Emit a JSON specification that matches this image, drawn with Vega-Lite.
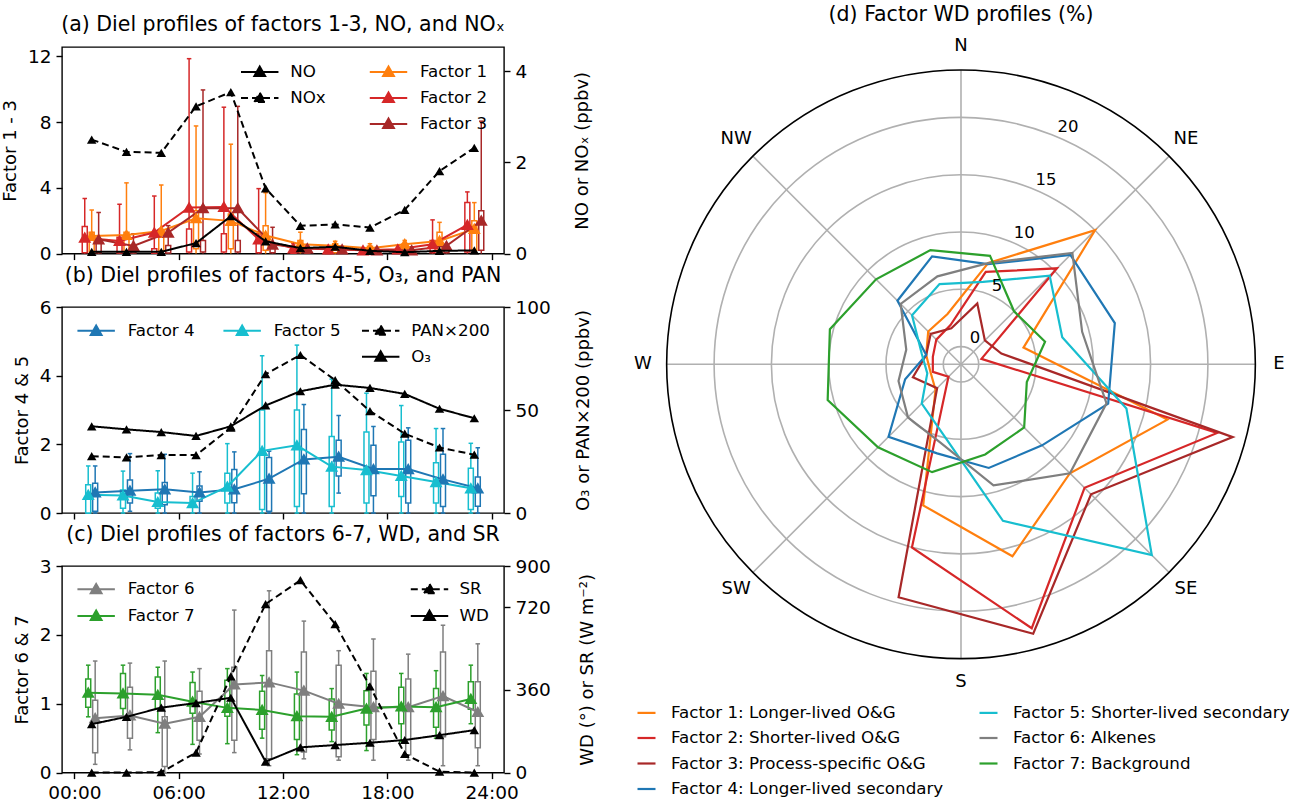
{
"$schema": "https://vega.github.io/schema/vega-lite/v6.json",
"padding": {"left": 0, "top": 4, "right": 0, "bottom": 0},
"background": "white",
"config": {
  "font": "DejaVu Sans",
  "view": {"stroke": "black", "strokeWidth": 1.4},
  "axis": {"labelFontSize": 18.5, "titleFontSize": 18, "titleFontWeight": "normal", "labelColor": "black", "titleColor": "black", "tickColor": "black", "tickWidth": 1.4, "tickSize": 6, "domain": false, "grid": false, "labelPadding": 5},
  "title": {"fontSize": 20.5, "fontWeight": "normal", "offset": 12, "color": "black"},
  "legend": {"labelFontSize": 16.7, "labelColor": "black", "padding": 0, "labelLimit": 600}
},
"datasets": {
  "box": [
    {"panel":"a","factor":"Factor 1","hour":1,"lo":0,"q1":0.1,"q3":1.3,"hi":2.65,"mid":1.07},
    {"panel":"a","factor":"Factor 1","hour":3,"lo":0,"q1":0.1,"q3":1.3,"hi":4.3,"mid":1.13},
    {"panel":"a","factor":"Factor 1","hour":5,"lo":0,"q1":0.15,"q3":1.0,"hi":4.17,"mid":1.38},
    {"panel":"a","factor":"Factor 1","hour":7,"lo":0,"q1":0.3,"q3":2.6,"hi":7.76,"mid":2.15},
    {"panel":"a","factor":"Factor 1","hour":9,"lo":0,"q1":0.3,"q3":2.4,"hi":6.65,"mid":1.99},
    {"panel":"a","factor":"Factor 1","hour":11,"lo":0,"q1":0.2,"q3":1.7,"hi":3.7,"mid":1.1},
    {"panel":"a","factor":"Factor 1","hour":13,"lo":0,"q1":0.1,"q3":0.8,"hi":1.3,"mid":0.57},
    {"panel":"a","factor":"Factor 1","hour":15,"lo":0,"q1":0.05,"q3":0.6,"hi":0.75,"mid":0.47},
    {"panel":"a","factor":"Factor 1","hour":17,"lo":0,"q1":0.02,"q3":0.45,"hi":0.6,"mid":0.32},
    {"panel":"a","factor":"Factor 1","hour":19,"lo":0,"q1":0.05,"q3":0.6,"hi":0.8,"mid":0.57},
    {"panel":"a","factor":"Factor 1","hour":21,"lo":0,"q1":0.1,"q3":1.3,"hi":1.9,"mid":0.77},
    {"panel":"a","factor":"Factor 1","hour":23,"lo":0,"q1":0.2,"q3":2.0,"hi":3.1,"mid":1.5},
    {"panel":"a","factor":"Factor 2","hour":1,"lo":0,"q1":0.05,"q3":1.65,"hi":3.35,"mid":0.97},
    {"panel":"a","factor":"Factor 2","hour":3,"lo":0,"q1":0.03,"q3":1.0,"hi":3.0,"mid":0.77},
    {"panel":"a","factor":"Factor 2","hour":5,"lo":0,"q1":0.02,"q3":0.3,"hi":3.5,"mid":1.28},
    {"panel":"a","factor":"Factor 2","hour":7,"lo":0,"q1":0.1,"q3":1.5,"hi":11.85,"mid":2.8},
    {"panel":"a","factor":"Factor 2","hour":9,"lo":0,"q1":0.1,"q3":1.2,"hi":8.9,"mid":2.84},
    {"panel":"a","factor":"Factor 2","hour":11,"lo":0,"q1":0.05,"q3":1.2,"hi":3.95,"mid":0.87},
    {"panel":"a","factor":"Factor 2","hour":13,"lo":0,"q1":0.02,"q3":0.3,"hi":0.6,"mid":0.32},
    {"panel":"a","factor":"Factor 2","hour":15,"lo":0,"q1":0.01,"q3":0.2,"hi":0.4,"mid":0.26},
    {"panel":"a","factor":"Factor 2","hour":17,"lo":0,"q1":0.01,"q3":0.15,"hi":0.3,"mid":0.2},
    {"panel":"a","factor":"Factor 2","hour":19,"lo":0,"q1":0.02,"q3":0.25,"hi":0.5,"mid":0.26},
    {"panel":"a","factor":"Factor 2","hour":21,"lo":0,"q1":0.05,"q3":0.8,"hi":2.05,"mid":0.57},
    {"panel":"a","factor":"Factor 2","hour":23,"lo":0,"q1":0.1,"q3":3.1,"hi":3.75,"mid":1.75},
    {"panel":"a","factor":"Factor 3","hour":1,"lo":0,"q1":0.05,"q3":0.8,"hi":2.5,"mid":0.87},
    {"panel":"a","factor":"Factor 3","hour":3,"lo":0,"q1":0.03,"q3":0.5,"hi":1.2,"mid":0.47},
    {"panel":"a","factor":"Factor 3","hour":5,"lo":0,"q1":0.03,"q3":0.5,"hi":1.7,"mid":1.28},
    {"panel":"a","factor":"Factor 3","hour":7,"lo":0,"q1":0.1,"q3":0.8,"hi":9.95,"mid":2.76},
    {"panel":"a","factor":"Factor 3","hour":9,"lo":0,"q1":0.1,"q3":0.8,"hi":8.95,"mid":2.76},
    {"panel":"a","factor":"Factor 3","hour":11,"lo":0,"q1":0.05,"q3":0.5,"hi":1.6,"mid":0.55},
    {"panel":"a","factor":"Factor 3","hour":13,"lo":0,"q1":0.02,"q3":0.2,"hi":0.45,"mid":0.32},
    {"panel":"a","factor":"Factor 3","hour":15,"lo":0,"q1":0.02,"q3":0.2,"hi":0.35,"mid":0.26},
    {"panel":"a","factor":"Factor 3","hour":17,"lo":0,"q1":0.02,"q3":0.2,"hi":0.35,"mid":0.2},
    {"panel":"a","factor":"Factor 3","hour":19,"lo":0,"q1":0.02,"q3":0.2,"hi":0.4,"mid":0.2},
    {"panel":"a","factor":"Factor 3","hour":21,"lo":0,"q1":0.05,"q3":0.3,"hi":0.5,"mid":0.47},
    {"panel":"a","factor":"Factor 3","hour":23,"lo":0,"q1":0.2,"q3":2.6,"hi":8.05,"mid":2.0},
    {"panel":"b","factor":"Factor 4","hour":1,"lo":0,"q1":0.05,"q3":0.87,"hi":1.37,"mid":0.6},
    {"panel":"b","factor":"Factor 4","hour":3,"lo":0.05,"q1":0.29,"q3":0.96,"hi":1.73,"mid":0.65},
    {"panel":"b","factor":"Factor 4","hour":5,"lo":0,"q1":0.24,"q3":0.89,"hi":1.71,"mid":0.69},
    {"panel":"b","factor":"Factor 4","hour":7,"lo":0,"q1":0.34,"q3":0.79,"hi":1.2,"mid":0.6},
    {"panel":"b","factor":"Factor 4","hour":9,"lo":0,"q1":0.3,"q3":1.27,"hi":1.78,"mid":0.69},
    {"panel":"b","factor":"Factor 4","hour":11,"lo":0,"q1":0.05,"q3":1.62,"hi":1.8,"mid":1.0},
    {"panel":"b","factor":"Factor 4","hour":13,"lo":0,"q1":0.56,"q3":2.43,"hi":3.16,"mid":1.56},
    {"panel":"b","factor":"Factor 4","hour":15,"lo":0.58,"q1":1.08,"q3":2.12,"hi":2.84,"mid":1.64},
    {"panel":"b","factor":"Factor 4","hour":17,"lo":0,"q1":0.5,"q3":1.97,"hi":2.52,"mid":1.28},
    {"panel":"b","factor":"Factor 4","hour":19,"lo":0,"q1":0.29,"q3":2.12,"hi":2.48,"mid":1.28},
    {"panel":"b","factor":"Factor 4","hour":21,"lo":0,"q1":0.19,"q3":1.71,"hi":2.46,"mid":0.98},
    {"panel":"b","factor":"Factor 4","hour":23,"lo":0,"q1":0.2,"q3":1.05,"hi":1.9,"mid":0.72},
    {"panel":"b","factor":"Factor 5","hour":1,"lo":0,"q1":0.0,"q3":0.82,"hi":1.37,"mid":0.53},
    {"panel":"b","factor":"Factor 5","hour":3,"lo":0,"q1":0.14,"q3":0.67,"hi":1.22,"mid":0.51},
    {"panel":"b","factor":"Factor 5","hour":5,"lo":0,"q1":0.14,"q3":0.58,"hi":1.23,"mid":0.32},
    {"panel":"b","factor":"Factor 5","hour":7,"lo":0,"q1":0.19,"q3":0.48,"hi":1.16,"mid":0.29},
    {"panel":"b","factor":"Factor 5","hour":9,"lo":0,"q1":0.29,"q3":1.16,"hi":2.02,"mid":0.77},
    {"panel":"b","factor":"Factor 5","hour":11,"lo":0,"q1":0.1,"q3":3.0,"hi":4.58,"mid":1.81},
    {"panel":"b","factor":"Factor 5","hour":13,"lo":0,"q1":0.19,"q3":3.0,"hi":4.89,"mid":1.97},
    {"panel":"b","factor":"Factor 5","hour":15,"lo":0,"q1":0.19,"q3":2.23,"hi":3.9,"mid":1.35},
    {"panel":"b","factor":"Factor 5","hour":17,"lo":0,"q1":0.29,"q3":2.36,"hi":3.49,"mid":1.25},
    {"panel":"b","factor":"Factor 5","hour":19,"lo":0,"q1":0.48,"q3":2.07,"hi":3.13,"mid":1.08},
    {"panel":"b","factor":"Factor 5","hour":21,"lo":0,"q1":0.29,"q3":1.46,"hi":2.46,"mid":0.9},
    {"panel":"b","factor":"Factor 5","hour":23,"lo":0,"q1":0.1,"q3":1.3,"hi":2.03,"mid":0.72},
    {"panel":"c","factor":"Factor 6","hour":1,"lo":0.12,"q1":0.29,"q3":1.05,"hi":1.62,"mid":0.79},
    {"panel":"c","factor":"Factor 6","hour":3,"lo":0.33,"q1":0.5,"q3":1.24,"hi":1.59,"mid":0.83},
    {"panel":"c","factor":"Factor 6","hour":5,"lo":0.0,"q1":0.09,"q3":0.81,"hi":1.62,"mid":0.71},
    {"panel":"c","factor":"Factor 6","hour":7,"lo":0.27,"q1":0.47,"q3":1.18,"hi":1.51,"mid":0.81},
    {"panel":"c","factor":"Factor 6","hour":9,"lo":0.29,"q1":0.47,"q3":1.53,"hi":2.36,"mid":1.28},
    {"panel":"c","factor":"Factor 6","hour":11,"lo":0.1,"q1":0.2,"q3":1.77,"hi":2.64,"mid":1.31},
    {"panel":"c","factor":"Factor 6","hour":13,"lo":0.2,"q1":0.3,"q3":1.75,"hi":2.2,"mid":1.19},
    {"panel":"c","factor":"Factor 6","hour":15,"lo":0.18,"q1":0.23,"q3":1.56,"hi":1.77,"mid":1.0},
    {"panel":"c","factor":"Factor 6","hour":17,"lo":0.18,"q1":0.48,"q3":1.47,"hi":1.94,"mid":0.95},
    {"panel":"c","factor":"Factor 6","hour":19,"lo":0.18,"q1":0.26,"q3":1.36,"hi":1.72,"mid":0.95},
    {"panel":"c","factor":"Factor 6","hour":21,"lo":0.1,"q1":0.52,"q3":1.75,"hi":2.14,"mid":1.11},
    {"panel":"c","factor":"Factor 6","hour":23,"lo":0.1,"q1":0.36,"q3":1.32,"hi":1.87,"mid":0.88},
    {"panel":"c","factor":"Factor 7","hour":1,"lo":0.81,"q1":0.95,"q3":1.36,"hi":1.56,"mid":1.16},
    {"panel":"c","factor":"Factor 7","hour":3,"lo":0.8,"q1":0.93,"q3":1.44,"hi":1.56,"mid":1.15},
    {"panel":"c","factor":"Factor 7","hour":5,"lo":0.58,"q1":0.93,"q3":1.39,"hi":1.53,"mid":1.13},
    {"panel":"c","factor":"Factor 7","hour":7,"lo":0.41,"q1":0.86,"q3":1.31,"hi":1.46,"mid":1.03},
    {"panel":"c","factor":"Factor 7","hour":9,"lo":0.42,"q1":0.82,"q3":1.34,"hi":1.51,"mid":0.94},
    {"panel":"c","factor":"Factor 7","hour":11,"lo":0.5,"q1":0.63,"q3":1.18,"hi":1.41,"mid":0.91},
    {"panel":"c","factor":"Factor 7","hour":13,"lo":0.26,"q1":0.48,"q3":1.14,"hi":1.46,"mid":0.82},
    {"panel":"c","factor":"Factor 7","hour":15,"lo":0.45,"q1":0.62,"q3":1.07,"hi":1.22,"mid":0.81},
    {"panel":"c","factor":"Factor 7","hour":17,"lo":0.32,"q1":0.69,"q3":1.19,"hi":1.44,"mid":0.93},
    {"panel":"c","factor":"Factor 7","hour":19,"lo":0.45,"q1":0.71,"q3":1.24,"hi":1.44,"mid":0.96},
    {"panel":"c","factor":"Factor 7","hour":21,"lo":0.5,"q1":0.66,"q3":1.22,"hi":1.48,"mid":0.95},
    {"panel":"c","factor":"Factor 7","hour":23,"lo":0.71,"q1":0.92,"q3":1.32,"hi":1.56,"mid":1.07}
  ],
  "black": [
    {"panel":"a","species":"NO","hour":1,"val":0.04},{"panel":"a","species":"NO","hour":3,"val":0.04},{"panel":"a","species":"NO","hour":5,"val":0.04},{"panel":"a","species":"NO","hour":7,"val":0.23},{"panel":"a","species":"NO","hour":9,"val":0.82},{"panel":"a","species":"NO","hour":11,"val":0.27},{"panel":"a","species":"NO","hour":13,"val":0.12},{"panel":"a","species":"NO","hour":15,"val":0.15},{"panel":"a","species":"NO","hour":17,"val":0.06},{"panel":"a","species":"NO","hour":19,"val":0.03},{"panel":"a","species":"NO","hour":21,"val":0.06},{"panel":"a","species":"NO","hour":23,"val":0.07},
    {"panel":"a","species":"NOx","hour":1,"val":2.5},{"panel":"a","species":"NOx","hour":3,"val":2.23},{"panel":"a","species":"NOx","hour":5,"val":2.21},{"panel":"a","species":"NOx","hour":7,"val":3.23},{"panel":"a","species":"NOx","hour":9,"val":3.54},{"panel":"a","species":"NOx","hour":11,"val":1.43},{"panel":"a","species":"NOx","hour":13,"val":0.61},{"panel":"a","species":"NOx","hour":15,"val":0.64},{"panel":"a","species":"NOx","hour":17,"val":0.57},{"panel":"a","species":"NOx","hour":19,"val":0.96},{"panel":"a","species":"NOx","hour":21,"val":1.81},{"panel":"a","species":"NOx","hour":23,"val":2.32},
    {"panel":"b","species":"O₃","hour":1,"val":42.1},{"panel":"b","species":"O₃","hour":3,"val":40.6},{"panel":"b","species":"O₃","hour":5,"val":39.3},{"panel":"b","species":"O₃","hour":7,"val":37.4},{"panel":"b","species":"O₃","hour":9,"val":42.1},{"panel":"b","species":"O₃","hour":11,"val":52.2},{"panel":"b","species":"O₃","hour":13,"val":59.1},{"panel":"b","species":"O₃","hour":15,"val":62.3},{"panel":"b","species":"O₃","hour":17,"val":60.7},{"panel":"b","species":"O₃","hour":19,"val":57.8},{"panel":"b","species":"O₃","hour":21,"val":50.6},{"panel":"b","species":"O₃","hour":23,"val":46},
    {"panel":"b","species":"PAN×200","hour":1,"val":27.6},{"panel":"b","species":"PAN×200","hour":3,"val":27.0},{"panel":"b","species":"PAN×200","hour":5,"val":28.1},{"panel":"b","species":"PAN×200","hour":7,"val":28.1},{"panel":"b","species":"PAN×200","hour":9,"val":41.4},{"panel":"b","species":"PAN×200","hour":11,"val":67.4},{"panel":"b","species":"PAN×200","hour":13,"val":76.7},{"panel":"b","species":"PAN×200","hour":15,"val":64.5},{"panel":"b","species":"PAN×200","hour":17,"val":49.5},{"panel":"b","species":"PAN×200","hour":19,"val":38.5},{"panel":"b","species":"PAN×200","hour":21,"val":31.8},{"panel":"b","species":"PAN×200","hour":23,"val":28.3},
    {"panel":"c","species":"SR","hour":1,"val":0},{"panel":"c","species":"SR","hour":3,"val":0},{"panel":"c","species":"SR","hour":5,"val":2},{"panel":"c","species":"SR","hour":7,"val":87},{"panel":"c","species":"SR","hour":9,"val":419},{"panel":"c","species":"SR","hour":11,"val":734},{"panel":"c","species":"SR","hour":13,"val":838},{"panel":"c","species":"SR","hour":15,"val":647},{"panel":"c","species":"SR","hour":17,"val":376},{"panel":"c","species":"SR","hour":19,"val":81},{"panel":"c","species":"SR","hour":21,"val":4},{"panel":"c","species":"SR","hour":23,"val":0},
    {"panel":"c","species":"WD","hour":1,"val":211},{"panel":"c","species":"WD","hour":3,"val":243},{"panel":"c","species":"WD","hour":5,"val":283},{"panel":"c","species":"WD","hour":7,"val":303},{"panel":"c","species":"WD","hour":9,"val":326},{"panel":"c","species":"WD","hour":11,"val":48},{"panel":"c","species":"WD","hour":13,"val":110},{"panel":"c","species":"WD","hour":15,"val":120},{"panel":"c","species":"WD","hour":17,"val":130},{"panel":"c","species":"WD","hour":19,"val":142},{"panel":"c","species":"WD","hour":21,"val":163},{"panel":"c","species":"WD","hour":23,"val":185}
  ],
  "wd": [
    {"name":"Factor 1: Longer-lived O&G","dir":15,"pct":7.6},{"name":"Factor 1: Longer-lived O&G","dir":45,"pct":15.0},{"name":"Factor 1: Longer-lived O&G","dir":75,"pct":4.1},{"name":"Factor 1: Longer-lived O&G","dir":105,"pct":17.1},{"name":"Factor 1: Longer-lived O&G","dir":135,"pct":11.9},{"name":"Factor 1: Longer-lived O&G","dir":165,"pct":15.8},{"name":"Factor 1: Longer-lived O&G","dir":195,"pct":11.2},{"name":"Factor 1: Longer-lived O&G","dir":225,"pct":1.6},{"name":"Factor 1: Longer-lived O&G","dir":255,"pct":1.2},{"name":"Factor 1: Longer-lived O&G","dir":285,"pct":1.6},{"name":"Factor 1: Longer-lived O&G","dir":315,"pct":2.5},{"name":"Factor 1: Longer-lived O&G","dir":345,"pct":3.0},
    {"name":"Factor 2: Shorter-lived O&G","dir":15,"pct":6.8},{"name":"Factor 2: Shorter-lived O&G","dir":45,"pct":10.3},{"name":"Factor 2: Shorter-lived O&G","dir":75,"pct":0.3},{"name":"Factor 2: Shorter-lived O&G","dir":105,"pct":21.6},{"name":"Factor 2: Shorter-lived O&G","dir":135,"pct":13.7},{"name":"Factor 2: Shorter-lived O&G","dir":165,"pct":22.3},{"name":"Factor 2: Shorter-lived O&G","dir":195,"pct":15.0},{"name":"Factor 2: Shorter-lived O&G","dir":225,"pct":0.0},{"name":"Factor 2: Shorter-lived O&G","dir":255,"pct":1.0},{"name":"Factor 2: Shorter-lived O&G","dir":285,"pct":1.0},{"name":"Factor 2: Shorter-lived O&G","dir":315,"pct":1.5},{"name":"Factor 2: Shorter-lived O&G","dir":345,"pct":2.0},
    {"name":"Factor 3: Process-specific O&G","dir":15,"pct":3.95},{"name":"Factor 3: Process-specific O&G","dir":45,"pct":1.4},{"name":"Factor 3: Process-specific O&G","dir":75,"pct":2.1},{"name":"Factor 3: Process-specific O&G","dir":105,"pct":23.0},{"name":"Factor 3: Process-specific O&G","dir":135,"pct":14.5},{"name":"Factor 3: Process-specific O&G","dir":165,"pct":22.8},{"name":"Factor 3: Process-specific O&G","dir":195,"pct":19.5},{"name":"Factor 3: Process-specific O&G","dir":225,"pct":1.4},{"name":"Factor 3: Process-specific O&G","dir":255,"pct":2.8},{"name":"Factor 3: Process-specific O&G","dir":285,"pct":1.6},{"name":"Factor 3: Process-specific O&G","dir":315,"pct":2.2},{"name":"Factor 3: Process-specific O&G","dir":345,"pct":1.7},
    {"name":"Factor 4: Longer-lived secondary","dir":15,"pct":7.5},{"name":"Factor 4: Longer-lived secondary","dir":45,"pct":11.95},{"name":"Factor 4: Longer-lived secondary","dir":75,"pct":12.35},{"name":"Factor 4: Longer-lived secondary","dir":105,"pct":11.75},{"name":"Factor 4: Longer-lived secondary","dir":135,"pct":8.46},{"name":"Factor 4: Longer-lived secondary","dir":165,"pct":7.82},{"name":"Factor 4: Longer-lived secondary","dir":195,"pct":6.5},{"name":"Factor 4: Longer-lived secondary","dir":225,"pct":7.4},{"name":"Factor 4: Longer-lived secondary","dir":255,"pct":3.5},{"name":"Factor 4: Longer-lived secondary","dir":285,"pct":1.6},{"name":"Factor 4: Longer-lived secondary","dir":315,"pct":6.3},{"name":"Factor 4: Longer-lived secondary","dir":345,"pct":8.2},
    {"name":"Factor 5: Shorter-lived secondary","dir":15,"pct":5.9},{"name":"Factor 5: Shorter-lived secondary","dir":45,"pct":9.4},{"name":"Factor 5: Shorter-lived secondary","dir":75,"pct":7.6},{"name":"Factor 5: Shorter-lived secondary","dir":105,"pct":13.4},{"name":"Factor 5: Shorter-lived secondary","dir":135,"pct":22.0},{"name":"Factor 5: Shorter-lived secondary","dir":165,"pct":12.6},{"name":"Factor 5: Shorter-lived secondary","dir":195,"pct":4.7},{"name":"Factor 5: Shorter-lived secondary","dir":225,"pct":3.3},{"name":"Factor 5: Shorter-lived secondary","dir":255,"pct":1.5},{"name":"Factor 5: Shorter-lived secondary","dir":285,"pct":2.0},{"name":"Factor 5: Shorter-lived secondary","dir":315,"pct":4.5},{"name":"Factor 5: Shorter-lived secondary","dir":345,"pct":5.7},
    {"name":"Factor 6: Alkenes","dir":15,"pct":7.6},{"name":"Factor 6: Alkenes","dir":45,"pct":12.2},{"name":"Factor 6: Alkenes","dir":75,"pct":9.4},{"name":"Factor 6: Alkenes","dir":105,"pct":11.6},{"name":"Factor 6: Alkenes","dir":135,"pct":11.9},{"name":"Factor 6: Alkenes","dir":165,"pct":9.4},{"name":"Factor 6: Alkenes","dir":195,"pct":5.5},{"name":"Factor 6: Alkenes","dir":225,"pct":5.0},{"name":"Factor 6: Alkenes","dir":255,"pct":4.1},{"name":"Factor 6: Alkenes","dir":285,"pct":3.4},{"name":"Factor 6: Alkenes","dir":315,"pct":5.9},{"name":"Factor 6: Alkenes","dir":345,"pct":6.4},
    {"name":"Factor 7: Background","dir":15,"pct":8.25},{"name":"Factor 7: Background","dir":45,"pct":5.0},{"name":"Factor 7: Background","dir":75,"pct":6.05},{"name":"Factor 7: Background","dir":105,"pct":4.4},{"name":"Factor 7: Background","dir":135,"pct":6.25},{"name":"Factor 7: Background","dir":165,"pct":6.6},{"name":"Factor 7: Background","dir":195,"pct":8.2},{"name":"Factor 7: Background","dir":225,"pct":8.7},{"name":"Factor 7: Background","dir":255,"pct":10.5},{"name":"Factor 7: Background","dir":285,"pct":10.3},{"name":"Factor 7: Background","dir":315,"pct":8.94},{"name":"Factor 7: Background","dir":345,"pct":8.77}
  ],
  "rings": [{"r":0},{"r":5},{"r":10},{"r":15},{"r":20}],
  "edge": [{"r":24.14}],
  "spokes": [{"angle":0},{"angle":45},{"angle":90},{"angle":135},{"angle":180},{"angle":225},{"angle":270},{"angle":315}],
  "dirs": [{"label":"N","angle":0},{"label":"NE","angle":45},{"label":"E","angle":90},{"label":"SE","angle":135},{"label":"S","angle":180},{"label":"SW","angle":225},{"label":"W","angle":270},{"label":"NW","angle":315}]
},
"hconcat": [
 {
  "vconcat": [
   {
    "width": 442, "height": 206.6,
    "title": {"text": "(a) Diel profiles of factors 1-3, NO, and NOₓ"},
    "layer": [
     {
      "data": {"name": "box"},
      "transform": [
        {"filter": "datum.panel == 'a'"},
        {"calculate": "datum.hour + (datum.factor == 'Factor 2' ? -0.4 : datum.factor == 'Factor 3' ? 0.4 : 0)", "as": "pos"},
        {"calculate": "datum.pos - 0.13", "as": "capL"},
        {"calculate": "datum.pos + 0.13", "as": "capR"}
      ],
      "encoding": {
        "x": {"field": "pos", "type": "quantitative", "scale": {"domain": [-0.42, 24.42], "nice": false, "zero": false}, "axis": {"values": [0,6,12,18,24], "labels": false, "title": null}},
        "stroke": {"field": "factor", "type": "nominal", "scale": {"domain": ["Factor 1","Factor 2","Factor 3"], "range": ["#ff7f0e","#d62728","#a82828"]},
          "legend": {"orient": "none", "legendX": 316.5, "legendY": 15, "title": null, "symbolType": "M-2.08,0H2.08M-0.6,0.45L0,-0.6L0.6,0.45Z", "symbolSize": 324, "symbolStrokeWidth": 2, "labelOffset": 21.5, "rowPadding": 7,
            "encode": {"symbols": {"update": {"fill": {"signal": "['#ff7f0e','#d62728','#a82828'][indexof(['Factor 1','Factor 2','Factor 3'], datum.value)]"}, "opacity": {"value": 1}}}}}}
      },
      "layer": [
        {"mark": {"type": "rule", "strokeWidth": 1.5}, "encoding": {"y": {"field": "lo", "type": "quantitative", "scale": {"domain": [0, 12.56], "nice": false}, "axis": {"values": [0,4,8,12], "title": "Factor 1 - 3", "titlePadding": 8}}, "y2": {"field": "hi"}}},
        {"mark": {"type": "rule", "strokeWidth": 1.5}, "encoding": {"x": {"field": "capL", "type": "quantitative"}, "x2": {"field": "capR"}, "y": {"field": "hi", "type": "quantitative"}}},
        {"mark": {"type": "bar", "width": 5, "fill": "white", "strokeWidth": 1.5}, "encoding": {"y": {"field": "q1", "type": "quantitative"}, "y2": {"field": "q3"}}},
        {"mark": {"type": "line", "strokeWidth": 2}, "encoding": {"y": {"field": "mid", "type": "quantitative"}}},
        {"mark": {"type": "point", "shape": "triangle-up", "filled": true, "size": 90, "opacity": 1}, "encoding": {"y": {"field": "mid", "type": "quantitative"}, "color": {"field": "factor", "type": "nominal", "scale": {"domain": ["Factor 1","Factor 2","Factor 3"], "range": ["#ff7f0e","#d62728","#a82828"]}, "legend": null}}}
      ]
     },
     {
      "data": {"name": "black"},
      "transform": [{"filter": "datum.panel == 'a'"}],
      "encoding": {
        "x": {"field": "hour", "type": "quantitative", "scale": {"domain": [-0.42, 24.42], "nice": false, "zero": false}, "axis": {"values": [0,6,12,18,24], "labels": false, "title": null}},
        "y": {"field": "val", "type": "quantitative", "scale": {"domain": [0, 4.53], "nice": false}, "axis": {"orient": "right", "values": [0,2,4], "title": "NO or NOₓ (ppbv)", "titleAngle": 270, "titleBaseline": "top", "titlePadding": 47}}
      },
      "layer": [
        {"mark": {"type": "line", "color": "black", "strokeWidth": 2}, "encoding": {"strokeDash": {"field": "species", "type": "nominal", "scale": {"domain": ["NO","NOx"], "range": [[1,0],[7,4]]},
          "legend": {"orient": "none", "legendX": 187.75, "legendY": 15, "title": null, "symbolType": "M-2.08,0H2.08M-0.6,0.45L0,-0.6L0.6,0.45Z", "symbolSize": 324, "symbolStrokeWidth": 2, "symbolFillColor": "black", "symbolStrokeColor": "black", "labelOffset": 20.5, "rowPadding": 7}}}},
        {"mark": {"type": "point", "shape": "triangle-up", "filled": true, "color": "black", "size": 90, "opacity": 1}, "encoding": {"detail": {"field": "species"}}}
      ]
     }
    ],
    "resolve": {"scale": {"y": "independent"}}
   },
   {
    "width": 442, "height": 206,
    "title": {"text": "(b) Diel profiles of factors 4-5, O₃, and PAN"},
    "layer": [
     {
      "data": {"name": "box"},
      "transform": [
        {"filter": "datum.panel == 'b'"},
        {"calculate": "datum.hour + (datum.factor == 'Factor 5' ? -0.2 : 0.2)", "as": "pos"},
        {"calculate": "datum.pos - 0.13", "as": "capL"},
        {"calculate": "datum.pos + 0.13", "as": "capR"}
      ],
      "encoding": {
        "x": {"field": "pos", "type": "quantitative", "scale": {"domain": [-0.42, 24.42], "nice": false, "zero": false}, "axis": {"values": [0,6,12,18,24], "labels": false, "title": null}},
        "stroke": {"field": "factor", "type": "nominal", "scale": {"domain": ["Factor 4","Factor 5"], "range": ["#1f77b4","#17becf"]},
          "legend": {"orient": "none", "legendX": 24.15, "legendY": 13.7, "columns": 2, "columnPadding": 24, "title": null, "symbolType": "M-2.08,0H2.08M-0.6,0.45L0,-0.6L0.6,0.45Z", "symbolSize": 324, "symbolStrokeWidth": 2, "labelOffset": 21.5, "rowPadding": 7,
            "encode": {"symbols": {"update": {"fill": {"signal": "['#1f77b4','#17becf'][indexof(['Factor 4','Factor 5'], datum.value)]"}, "opacity": {"value": 1}}}}}}
      },
      "layer": [
        {"mark": {"type": "rule", "strokeWidth": 1.5}, "encoding": {"y": {"field": "lo", "type": "quantitative", "scale": {"domain": [0, 6], "nice": false}, "axis": {"values": [0,2,4,6], "title": "Factor 4 & 5", "titlePadding": 8}}, "y2": {"field": "hi"}}},
        {"mark": {"type": "rule", "strokeWidth": 1.5}, "encoding": {"x": {"field": "capL", "type": "quantitative"}, "x2": {"field": "capR"}, "y": {"field": "hi", "type": "quantitative"}}},
        {"mark": {"type": "rule", "strokeWidth": 1.5}, "encoding": {"x": {"field": "capL", "type": "quantitative"}, "x2": {"field": "capR"}, "y": {"field": "lo", "type": "quantitative"}}},
        {"mark": {"type": "bar", "width": 5, "fill": "white", "strokeWidth": 1.5}, "encoding": {"y": {"field": "q1", "type": "quantitative"}, "y2": {"field": "q3"}}},
        {"mark": {"type": "line", "strokeWidth": 2}, "encoding": {"y": {"field": "mid", "type": "quantitative"}}},
        {"mark": {"type": "point", "shape": "triangle-up", "filled": true, "size": 90, "opacity": 1}, "encoding": {"y": {"field": "mid", "type": "quantitative"}, "color": {"field": "factor", "type": "nominal", "scale": {"domain": ["Factor 4","Factor 5"], "range": ["#1f77b4","#17becf"]}, "legend": null}}}
      ]
     },
     {
      "data": {"name": "black"},
      "transform": [{"filter": "datum.panel == 'b'"}],
      "encoding": {
        "x": {"field": "hour", "type": "quantitative", "scale": {"domain": [-0.42, 24.42], "nice": false, "zero": false}, "axis": {"values": [0,6,12,18,24], "labels": false, "title": null}},
        "y": {"field": "val", "type": "quantitative", "scale": {"domain": [0, 100], "nice": false}, "axis": {"orient": "right", "values": [0,50,100], "title": "O₃ or PAN×200 (ppbv)", "titleAngle": 270, "titleBaseline": "top", "titlePadding": 24}}
      },
      "layer": [
        {"mark": {"type": "line", "color": "black", "strokeWidth": 2}, "encoding": {"strokeDash": {"field": "species", "type": "nominal", "scale": {"domain": ["PAN×200","O₃"], "range": [[7,4],[1,0]]},
          "legend": {"orient": "none", "legendX": 308.7, "legendY": 13.7, "title": null, "symbolType": "M-2.08,0H2.08M-0.6,0.45L0,-0.6L0.6,0.45Z", "symbolSize": 324, "symbolStrokeWidth": 2, "symbolFillColor": "black", "symbolStrokeColor": "black", "labelOffset": 20.5, "rowPadding": 7}}}},
        {"mark": {"type": "point", "shape": "triangle-up", "filled": true, "color": "black", "size": 90, "opacity": 1}, "encoding": {"detail": {"field": "species"}}}
      ]
     }
    ],
    "resolve": {"scale": {"y": "independent"}}
   },
   {
    "width": 442, "height": 206.6,
    "title": {"text": "(c) Diel profiles of factors 6-7, WD, and SR"},
    "layer": [
     {
      "data": {"name": "box"},
      "transform": [
        {"filter": "datum.panel == 'c'"},
        {"calculate": "datum.hour + (datum.factor == 'Factor 7' ? -0.2 : 0.2)", "as": "pos"},
        {"calculate": "datum.pos - 0.13", "as": "capL"},
        {"calculate": "datum.pos + 0.13", "as": "capR"}
      ],
      "encoding": {
        "x": {"field": "pos", "type": "quantitative", "scale": {"domain": [-0.42, 24.42], "nice": false, "zero": false}, "axis": {"values": [0,6,12,18,24], "title": null, "labelExpr": "(datum.value < 10 ? '0' : '') + datum.value + ':00'"}},
        "stroke": {"field": "factor", "type": "nominal", "scale": {"domain": ["Factor 6","Factor 7"], "range": ["#7f7f7f","#2ca02c"]},
          "legend": {"orient": "none", "legendX": 24.15, "legendY": 13.3, "title": null, "symbolType": "M-2.08,0H2.08M-0.6,0.45L0,-0.6L0.6,0.45Z", "symbolSize": 324, "symbolStrokeWidth": 2, "labelOffset": 21.5, "rowPadding": 7.7,
            "encode": {"symbols": {"update": {"fill": {"signal": "['#7f7f7f','#2ca02c'][indexof(['Factor 6','Factor 7'], datum.value)]"}, "opacity": {"value": 1}}}}}}
      },
      "layer": [
        {"mark": {"type": "rule", "strokeWidth": 1.5}, "encoding": {"y": {"field": "lo", "type": "quantitative", "scale": {"domain": [0, 3], "nice": false}, "axis": {"values": [0,1,2,3], "format": "d", "title": "Factor 6 & 7", "titlePadding": 8}}, "y2": {"field": "hi"}}},
        {"mark": {"type": "rule", "strokeWidth": 1.5}, "encoding": {"x": {"field": "capL", "type": "quantitative"}, "x2": {"field": "capR"}, "y": {"field": "hi", "type": "quantitative"}}},
        {"mark": {"type": "rule", "strokeWidth": 1.5}, "encoding": {"x": {"field": "capL", "type": "quantitative"}, "x2": {"field": "capR"}, "y": {"field": "lo", "type": "quantitative"}}},
        {"mark": {"type": "bar", "width": 5, "fill": "white", "strokeWidth": 1.5}, "encoding": {"y": {"field": "q1", "type": "quantitative"}, "y2": {"field": "q3"}}},
        {"mark": {"type": "line", "strokeWidth": 2}, "encoding": {"y": {"field": "mid", "type": "quantitative"}}},
        {"mark": {"type": "point", "shape": "triangle-up", "filled": true, "size": 90, "opacity": 1}, "encoding": {"y": {"field": "mid", "type": "quantitative"}, "color": {"field": "factor", "type": "nominal", "scale": {"domain": ["Factor 6","Factor 7"], "range": ["#7f7f7f","#2ca02c"]}, "legend": null}}}
      ]
     },
     {
      "data": {"name": "black"},
      "transform": [{"filter": "datum.panel == 'c'"}],
      "encoding": {
        "x": {"field": "hour", "type": "quantitative", "scale": {"domain": [-0.42, 24.42], "nice": false, "zero": false}, "axis": {"values": [0,6,12,18,24], "title": null, "labelExpr": "(datum.value < 10 ? '0' : '') + datum.value + ':00'"}},
        "y": {"field": "val", "type": "quantitative", "scale": {"domain": [0, 900], "nice": false}, "axis": {"orient": "right", "values": [0,360,720,900], "title": "WD (°) or SR (W m⁻²)", "titleAngle": 270, "titleBaseline": "top", "titlePadding": 28}}
      },
      "layer": [
        {"mark": {"type": "line", "color": "black", "strokeWidth": 2}, "encoding": {"strokeDash": {"field": "species", "type": "nominal", "scale": {"domain": ["SR","WD"], "range": [[7,4],[1,0]]},
          "legend": {"orient": "none", "legendX": 357.5, "legendY": 13.3, "title": null, "symbolType": "M-2.08,0H2.08M-0.6,0.45L0,-0.6L0.6,0.45Z", "symbolSize": 324, "symbolStrokeWidth": 2, "symbolFillColor": "black", "symbolStrokeColor": "black", "labelOffset": 20, "rowPadding": 7.7}}}},
        {"mark": {"type": "point", "shape": "triangle-up", "filled": true, "color": "black", "size": 90, "opacity": 1}, "encoding": {"detail": {"field": "species"}}}
      ]
     }
    ],
    "resolve": {"scale": {"y": "independent"}}
   }
  ],
  "spacing": 53,
  "bounds": "flush",
  "resolve": {"scale": {"stroke": "independent", "color": "independent", "strokeDash": "independent"}, "legend": {"stroke": "independent", "color": "independent", "strokeDash": "independent"}}
 },
 {
  "width": 650, "height": 634.6,
  "view": {"stroke": null},
  "title": {"text": "(d) Factor WD profiles (%)"},
  "layer": [
   {
    "data": {"name": "rings"},
    "transform": [{"calculate": "pow(2 * (datum.r + 1.545) * 11.46, 2)", "as": "sz"}],
    "mark": {"type": "point", "shape": "circle", "filled": false, "stroke": "#b0b0b0", "strokeWidth": 1.6, "opacity": 1},
    "encoding": {
      "x": {"datum": 0, "type": "quantitative", "scale": {"domain": [-28.36, 28.36], "nice": false, "zero": false}, "axis": null},
      "y": {"datum": 0, "type": "quantitative", "scale": {"domain": [-27.69, 27.69], "nice": false, "zero": false}, "axis": null},
      "size": {"field": "sz", "type": "quantitative", "scale": null}
    }
   },
   {
    "data": {"name": "spokes"},
    "transform": [
      {"calculate": "0", "as": "o"},
      {"calculate": "25.69 * sin(datum.angle * PI / 180)", "as": "ex"},
      {"calculate": "25.69 * cos(datum.angle * PI / 180)", "as": "ey"}
    ],
    "mark": {"type": "rule", "color": "#b0b0b0", "strokeWidth": 1.6},
    "encoding": {
      "x": {"field": "o", "type": "quantitative"}, "x2": {"field": "ex"},
      "y": {"field": "o", "type": "quantitative"}, "y2": {"field": "ey"}
    }
   },
   {
    "data": {"name": "edge"},
    "transform": [{"calculate": "pow(2 * (datum.r + 1.545) * 11.46, 2)", "as": "sz"}],
    "mark": {"type": "point", "shape": "circle", "filled": false, "stroke": "black", "strokeWidth": 1.6, "opacity": 1},
    "encoding": {
      "x": {"datum": 0, "type": "quantitative"},
      "y": {"datum": 0, "type": "quantitative"},
      "size": {"field": "sz", "type": "quantitative", "scale": null}
    }
   },
   {
    "data": {"name": "wd"},
    "transform": [
      {"calculate": "(datum.pct + 1.545) * sin(datum.dir * PI / 180)", "as": "px"},
      {"calculate": "(datum.pct + 1.545) * cos(datum.dir * PI / 180)", "as": "py"}
    ],
    "mark": {"type": "line", "interpolate": "linear-closed", "strokeWidth": 2.2},
    "encoding": {
      "x": {"field": "px", "type": "quantitative"},
      "y": {"field": "py", "type": "quantitative"},
      "order": {"field": "dir", "type": "quantitative"},
      "stroke": {"field": "name", "type": "nominal",
        "scale": {"domain": ["Factor 1: Longer-lived O&G","Factor 2: Shorter-lived O&G","Factor 3: Process-specific O&G","Factor 4: Longer-lived secondary","Factor 5: Shorter-lived secondary","Factor 6: Alkenes","Factor 7: Background"],
                  "range": ["#ff7f0e","#d62728","#a82828","#1f77b4","#17becf","#7f7f7f","#2ca02c"]},
        "legend": {"orient": "none", "legendX": 0, "legendY": 655, "columns": 2, "columnPadding": 31, "title": null, "symbolType": "stroke", "symbolSize": 324, "symbolStrokeWidth": 2.2, "labelOffset": 14, "rowPadding": 5.5}}
    }
   },
   {
    "data": {"name": "dirs"},
    "transform": [
      {"calculate": "27.75 * sin(datum.angle * PI / 180)", "as": "tx"},
      {"calculate": "27.75 * cos(datum.angle * PI / 180)", "as": "ty"}
    ],
    "mark": {"type": "text", "fontSize": 18, "align": "center", "baseline": "middle", "color": "black"},
    "encoding": {"x": {"field": "tx", "type": "quantitative"}, "y": {"field": "ty", "type": "quantitative"}, "text": {"field": "label"}}
   },
   {
    "data": {"name": "rings"},
    "transform": [
      {"calculate": "(datum.r + 1.545) * sin(22.5 * PI / 180)", "as": "tx"},
      {"calculate": "(datum.r + 1.545) * cos(22.5 * PI / 180)", "as": "ty"}
    ],
    "mark": {"type": "text", "fontSize": 16.5, "align": "left", "baseline": "middle", "dx": 2, "dy": -9.5, "color": "black"},
    "encoding": {"x": {"field": "tx", "type": "quantitative"}, "y": {"field": "ty", "type": "quantitative"}, "text": {"field": "r", "type": "quantitative"}}
   }
  ]
 }
],
"spacing": 36,
"resolve": {"scale": {"stroke": "independent", "color": "independent", "strokeDash": "independent"}, "legend": {"stroke": "independent", "color": "independent", "strokeDash": "independent"}}
}
